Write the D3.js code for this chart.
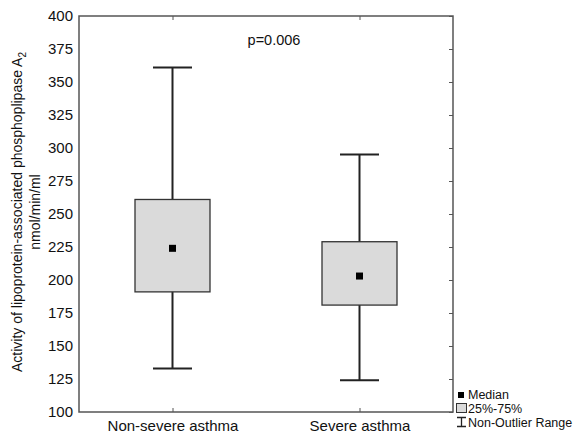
<!DOCTYPE html>
<html>
<head>
<meta charset="utf-8">
<script src="https://cdn.jsdelivr.net/npm/d3@7"></script>
<style>
  body { margin: 0; background: #fff; }
  text { font-family: "Liberation Sans", Arial, sans-serif; fill: #111; }
</style>
</head>
<body>
<svg id="chart" width="573" height="433"></svg>
<script>
// data
const groups = ['Non-severe asthma', 'Severe asthma'];
const whiskerLow = [133, 124];
const q1 = [191, 181];
const medians = [224, 203];
const q3 = [261, 229];
const whiskerHigh = [361, 295];
const yTicks = [100, 125, 150, 175, 200, 225, 250, 275, 300, 325, 350, 375, 400];

const stats = groups.map((g, i) => ({
    name: g, lo: whiskerLow[i], q1: q1[i], med: medians[i], q3: q3[i], hi: whiskerHigh[i]
}));

const plotL = 79, plotR = 453, plotT = 16, plotB = 412;

const svg = d3.select('#chart');

const x = d3.scalePoint()
            .domain(groups)
            .range([plotL, plotR])
            .padding(0.5);
const y = d3.scaleLinear()
            .domain([100, 400])
            .range([plotB, plotT]);

const frame = '#555';

// inward ticks on all sides
svg.append('g')
   .attr('transform', `translate(${plotR},0)`)
   .call(d3.axisLeft(y).tickValues(yTicks).tickSize(4).tickFormat(''))
   .call(g => g.select('.domain').remove())
   .call(g => g.selectAll('line').attr('stroke', frame));

svg.append('g')
   .attr('transform', `translate(0,${plotT})`)
   .call(d3.axisBottom(x).tickSize(4).tickFormat(''))
   .call(g => g.select('.domain').remove())
   .call(g => g.selectAll('line').attr('stroke', frame));

svg.append('g')
   .attr('transform', `translate(0,${plotB})`)
   .call(d3.axisTop(x).tickSize(4).tickFormat(''))
   .call(g => g.select('.domain').remove())
   .call(g => g.selectAll('line').attr('stroke', frame));

// y axis labels
let yAxis = svg.append('g')
   .attr('transform', `translate(${plotL},0)`)
   .call(d3.axisLeft(y).tickValues(yTicks).tickSize(0).tickPadding(6));
yAxis.select('.domain').remove();
yAxis.selectAll('text')
     .style('font-size', '15px')
     .style('font-family', '"Liberation Sans", Arial, sans-serif')
     .attr('fill', '#111');

// category labels
let xAxis = svg.append('g')
   .attr('transform', `translate(0,${plotB})`)
   .call(d3.axisBottom(x).tickSize(0).tickPadding(8));
xAxis.select('.domain').remove();
xAxis.selectAll('text')
     .style('font-size', '15px')
     .style('font-family', '"Liberation Sans", Arial, sans-serif')
     .attr('fill', '#111');

// frame
svg.append('rect')
   .attr('x', plotL).attr('y', plotT)
   .attr('width', plotR - plotL).attr('height', plotB - plotT)
   .attr('fill', 'none')
   .attr('stroke', frame)
   .attr('stroke-width', 1.5);

// boxes
let boxW = 75, capW = 39, medS = 7;
let boxes = svg.append('g').selectAll('g')
   .data(stats)
   .enter().append('g');

boxes.append('line')
     .attr('x1', d => x(d.name)).attr('x2', d => x(d.name))
     .attr('y1', d => y(d.hi)).attr('y2', d => y(d.lo))
     .attr('stroke', '#222').attr('stroke-width', 2);

boxes.selectAll('.cap')
     .data(d => [{n: d.name, v: d.hi}, {n: d.name, v: d.lo}])
     .enter().append('line')
     .attr('class', 'cap')
     .attr('x1', d => x(d.n) - capW / 2).attr('x2', d => x(d.n) + capW / 2)
     .attr('y1', d => y(d.v)).attr('y2', d => y(d.v))
     .attr('stroke', '#222').attr('stroke-width', 2);

boxes.append('rect')
     .attr('x', d => x(d.name) - boxW / 2)
     .attr('y', d => y(d.q3))
     .attr('width', boxW)
     .attr('height', d => y(d.q1) - y(d.q3))
     .attr('fill', '#dadada')
     .attr('stroke', '#333')
     .attr('stroke-width', 1.3);

boxes.append('rect')
     .attr('x', d => x(d.name) - medS / 2)
     .attr('y', d => y(d.med) - medS / 2)
     .attr('width', medS).attr('height', medS)
     .attr('fill', '#000');

// p value
svg.append('text')
   .attr('x', 274).attr('y', 45)
   .attr('text-anchor', 'middle')
   .style('font-size', '14.5px')
   .text('p=0.006');

// y title
let yt = svg.append('text')
   .attr('transform', 'translate(22,212) rotate(-90)')
   .attr('text-anchor', 'middle')
   .style('font-size', '14px');
yt.append('tspan').attr('x', 0).attr('dy', 0)
  .text('Activity of lipoprotein-associated phosphoplipase A');
yt.append('tspan').attr('dy', 4).style('font-size', '10px').text('2');
svg.append('text')
   .attr('transform', 'translate(40,212) rotate(-90)')
   .attr('text-anchor', 'middle')
   .style('font-size', '14px')
   .text('nmol/min/ml');

// legend
let lg = svg.append('g').attr('transform', 'translate(456,0)');
lg.append('rect').attr('x', 2).attr('y', 392).attr('width', 6).attr('height', 6).attr('fill', '#000');
lg.append('text').attr('x', 12).attr('y', 399).style('font-size', '12.5px').text('Median');
lg.append('rect').attr('x', 0.5).attr('y', 403.5).attr('width', 10).attr('height', 9)
  .attr('fill', '#dadada').attr('stroke', '#333');
lg.append('text').attr('x', 12).attr('y', 413).style('font-size', '12.5px').text('25%-75%');
lg.append('path').attr('d', 'M1,417.5H10M5.5,417.5V426.5M1,426.5H10')
  .attr('stroke', '#222').attr('stroke-width', 1.3).attr('fill', 'none');
lg.append('text').attr('x', 12).attr('y', 427).style('font-size', '12.5px').text('Non-Outlier Range');
</script>
</body>
</html>
